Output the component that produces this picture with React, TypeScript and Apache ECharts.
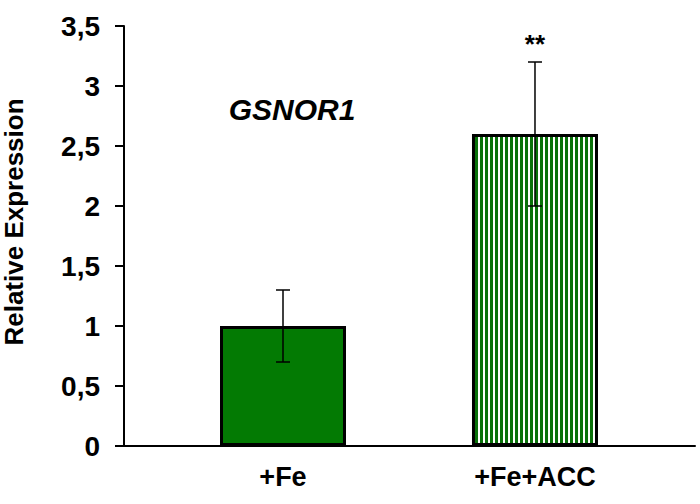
import React, { useEffect, useRef } from "react";
import * as echarts from "echarts";

const categories = ["+Fe", "+Fe+ACC"];
const values = [1.0, 2.6];
const errors = [0.3, 0.6];
const significance = ["", "**"];
const geneName = "GSNOR1";
const yAxisName = "Relative Expression";

const FONT = "'Liberation Sans', Arial, sans-serif";
const GREEN = "#037a03";

function makeStripePattern() {
  const c = document.createElement("canvas");
  c.width = 5;
  c.height = 10;
  const ctx = c.getContext("2d")!;
  ctx.fillStyle = "#ffffff";
  ctx.fillRect(0, 0, 5, 10);
  ctx.fillStyle = "#0a720a";
  ctx.fillRect(0, 0, 3, 10);
  return c;
}

export default function App() {
  const ref = useRef<HTMLDivElement>(null);
  useEffect(() => {
    if (!ref.current) return;
    const chart = echarts.init(ref.current, null, { renderer: "svg" });
    const pattern = makeStripePattern();
    const positions = categories.map((_, i) => i + 1);
    const barData = values.map((v, i) => ({
      value: [positions[i], v],
      itemStyle:
        i === 1
          ? { color: { image: pattern, repeat: "repeat" } as any }
          : { color: GREEN },
    }));
    const errData = values.map((v, i) => [positions[i], v, errors[i], i]);

    chart.setOption({
      animation: false,
      backgroundColor: "#ffffff",
      grid: { left: 124, right: 5, top: 26, bottom: 58 },
      xAxis: {
        type: "value",
        min: 0.369,
        max: 2.635,
        splitLine: { show: false },
        axisLine: { show: true, lineStyle: { color: "#000", width: 2 } },
        axisTick: { show: false },
        axisLabel: {
          customValues: positions,
          formatter: (v: number) => categories[Math.round(v) - 1] ?? "",
          color: "#000",
          fontFamily: FONT,
          fontWeight: "bold",
          fontSize: 27,
          margin: 17,
        },
      },
      yAxis: {
        type: "value",
        min: 0,
        max: 3.5,
        interval: 0.5,
        splitLine: { show: false },
        axisLine: { show: true, lineStyle: { color: "#000", width: 2 } },
        axisTick: { show: true, length: 9, lineStyle: { color: "#000", width: 2 } },
        axisLabel: {
          formatter: (v: number) => String(v).replace(".", ","),
          color: "#000",
          fontFamily: FONT,
          fontWeight: "bold",
          fontSize: 28,
          margin: 24,
        },
      },
      series: [
        {
          type: "bar",
          data: barData,
          barWidth: 126,
          itemStyle: { borderColor: "#000", borderWidth: 3 },
        },
        {
          type: "custom",
          data: errData,
          z: 10,
          renderItem: (params: any, api: any) => {
            const x = api.value(0);
            const y = api.value(1);
            const e = api.value(2);
            const idx = api.value(3);
            const top = api.coord([x, y + e]);
            const bot = api.coord([x, y - e]);
            const cap = 7;
            const style = { stroke: "#000", lineWidth: 1.5 };
            const children: any[] = [
              { type: "line", shape: { x1: top[0], y1: top[1], x2: bot[0], y2: bot[1] }, style },
              { type: "line", shape: { x1: top[0] - cap, y1: top[1], x2: top[0] + cap, y2: top[1] }, style },
              { type: "line", shape: { x1: bot[0] - cap, y1: bot[1], x2: bot[0] + cap, y2: bot[1] }, style },
            ];
            const sig = significance[idx];
            if (sig) {
              children.push({
                type: "text",
                x: top[0],
                y: top[1] - 18,
                style: {
                  text: sig,
                  fill: "#000",
                  font: `bold 26px ${FONT}`,
                  textAlign: "center",
                  textVerticalAlign: "middle",
                },
              });
            }
            return { type: "group", children };
          },
        },
      ],
      graphic: [
        {
          type: "text",
          x: 292,
          y: 109,
          style: {
            text: geneName,
            fill: "#000",
            font: `italic bold 30px ${FONT}`,
            textAlign: "center",
            textVerticalAlign: "middle",
          },
        },
        {
          type: "text",
          x: 14,
          y: 222,
          rotation: Math.PI / 2,
          style: {
            text: yAxisName,
            fill: "#000",
            font: `bold 26px ${FONT}`,
            textAlign: "center",
            textVerticalAlign: "middle",
          },
        },
      ],
    });
    return () => chart.dispose();
  }, []);
  return <div ref={ref} style={{ width: 700, height: 504, position: "absolute", left: 0, top: 0 }} />;
}
